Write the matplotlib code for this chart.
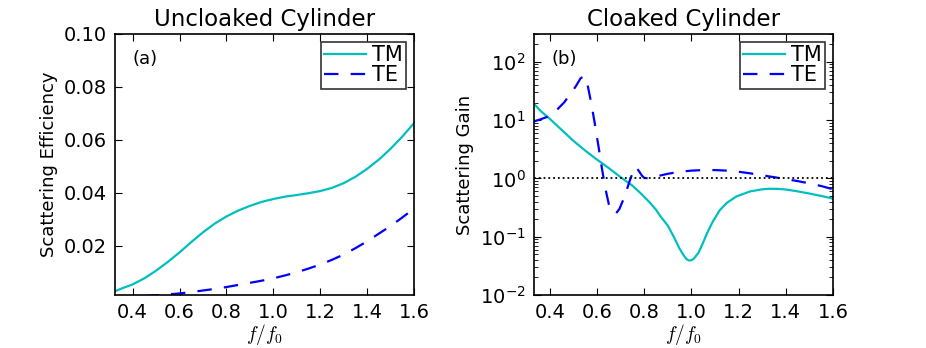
import matplotlib
matplotlib.use("Agg")
import matplotlib.pyplot as plt
from matplotlib.ticker import LogLocator, FixedLocator

plt.rcParams['mathtext.fontset'] = 'cm'
plt.rcParams['font.family'] = ['DejaVu Sans']

# ---- data ----
f_unc = [0.33, 0.36, 0.4, 0.45, 0.5, 0.55, 0.6, 0.65, 0.7, 0.75, 0.8, 0.85, 0.9, 0.95, 1.0,
         1.05, 1.1, 1.15, 1.2, 1.25, 1.3, 1.35, 1.4, 1.45, 1.5, 1.55, 1.6]
tm_unc = [0.0029, 0.0040, 0.0053, 0.0076, 0.0105, 0.0138, 0.0174, 0.0213, 0.0250, 0.0283,
          0.0310, 0.0332, 0.0350, 0.0365, 0.0376, 0.0385, 0.0391, 0.0398, 0.0406, 0.0418,
          0.0436, 0.0460, 0.0490, 0.0525, 0.0566, 0.0612, 0.0663]
f_unc_te = [0.45, 0.5, 0.55, 0.6, 0.65, 0.7, 0.75, 0.8, 0.85, 0.9, 0.95, 1.0,
            1.05, 1.1, 1.15, 1.2, 1.25, 1.3, 1.35, 1.4, 1.45, 1.5, 1.55, 1.6]
te_unc = [0.0009, 0.0012, 0.0015, 0.0019, 0.0024, 0.0030, 0.0036, 0.0043, 0.0051, 0.0059,
          0.0067, 0.0076, 0.0087, 0.0099, 0.0113, 0.0128, 0.0146, 0.0166, 0.0190, 0.0216,
          0.0245, 0.0274, 0.0306, 0.0340]

f_clk = [0.333, 0.36, 0.4, 0.45, 0.5, 0.55, 0.6, 0.65, 0.7, 0.75, 0.78, 0.82, 0.85,
         0.87, 0.9, 0.925, 0.95, 0.97, 0.98, 0.99, 1.0, 1.01, 1.03, 1.05, 1.065, 1.09,
         1.12, 1.15, 1.19, 1.25, 1.3, 1.33, 1.37, 1.4, 1.45, 1.5, 1.55, 1.6]
tm_clk = [19.0, 14.5, 10.5, 6.8, 4.4, 3.0, 2.1, 1.5, 1.05, 0.75, 0.58, 0.40, 0.29,
          0.22, 0.155, 0.100, 0.062, 0.046, 0.041, 0.039, 0.0395, 0.042, 0.053, 0.080,
          0.112, 0.18, 0.285, 0.38, 0.49, 0.6, 0.65, 0.665, 0.66, 0.645, 0.6, 0.55,
          0.50, 0.45]

f_clk_te = [0.333, 0.36, 0.4, 0.43, 0.46, 0.49, 0.51, 0.53, 0.545, 0.56, 0.575, 0.59,
            0.605, 0.62, 0.635, 0.65, 0.665, 0.68, 0.695, 0.71, 0.725, 0.74, 0.755,
            0.765, 0.775, 0.79, 0.80, 0.82, 0.85, 0.9, 0.95, 1.0, 1.05, 1.1, 1.15, 1.2,
            1.25, 1.3, 1.35, 1.4, 1.45, 1.5, 1.55, 1.6]
te_clk = [9.5, 10.3, 11.8, 15.0, 20.0, 29.0, 38.0, 52.0, 57.0, 40.0, 20.0, 9.0,
          3.8, 1.55, 0.68, 0.36, 0.27, 0.25, 0.30, 0.42, 0.62, 0.95, 1.38,
          1.58, 1.38, 1.12, 1.02, 1.0, 1.08, 1.2, 1.3, 1.36, 1.39, 1.39, 1.36, 1.3,
          1.22, 1.13, 1.05, 0.97, 0.9, 0.82, 0.74, 0.65]

c_tm = (0.0, 0.75, 0.75)
c_te = (0.0, 0.0, 1.0)
dash = (0, (6.5, 5.5))

fig = plt.figure(figsize=(9.26, 3.48), dpi=100)
ax1 = fig.add_axes([0.1242, 0.1523, 0.3229, 0.75])
ax2 = fig.add_axes([0.5767, 0.1523, 0.3229, 0.75])

ax1.plot(f_unc, tm_unc, color=c_tm, lw=1.6, label='TM')
ax1.plot(f_unc_te, te_unc, color=c_te, lw=1.6, ls=dash, label='TE')
ax1.set_xlim(0.325, 1.6)
ax1.set_ylim(0.0013, 0.1)
ax1.yaxis.set_major_locator(FixedLocator([0.02, 0.04, 0.06, 0.08, 0.10]))
ax1.set_yticklabels(['0.02', '0.04', '0.06', '0.08', '0.10'])
ax1.set_title('Uncloaked Cylinder', fontsize=16.5, pad=6)
ax1.set_ylabel('Scattering Efficiency', fontsize=13)
ax1.text(0.06, 0.905, '(a)', transform=ax1.transAxes, fontsize=13, va='center', ha='left')

ax2.plot(f_clk, tm_clk, color=c_tm, lw=1.6, label='TM')
ax2.plot(f_clk_te, te_clk, color=c_te, lw=1.6, ls=dash, label='TE')
ax2.axhline(1.0, color='k', ls=':', lw=1.3)
ax2.set_yscale('log')
ax2.set_xlim(0.333, 1.6)
ax2.set_ylim(0.01, 300)
ax2.yaxis.set_major_locator(LogLocator(base=10, numticks=10))
ax2.yaxis.set_minor_locator(LogLocator(base=10, subs=range(2, 10), numticks=20))
ax2.set_title('Cloaked Cylinder', fontsize=16.5, pad=6)
ax2.set_ylabel('Scattering Gain', fontsize=13)
ax2.text(0.06, 0.905, '(b)', transform=ax2.transAxes, fontsize=13, va='center', ha='left')

for ax in (ax1, ax2):
    ax.xaxis.set_major_locator(FixedLocator([0.4, 0.6, 0.8, 1.0, 1.2, 1.4, 1.6]))
    ax.set_xticklabels(['0.4', '0.6', '0.8', '1.0', '1.2', '1.4', '1.6'])
    ax.set_xlabel(r'$f/f_0$', fontsize=14, labelpad=0)
    ax.tick_params(which='both', direction='in', top=True, right=True, labelsize=14, pad=6)
    ax.tick_params(which='major', length=5, width=0.8)
    ax.tick_params(which='minor', length=3, width=0.6)
    for s in ax.spines.values():
        s.set_linewidth(1.2)
    leg = ax.legend(loc='upper right', fontsize=15, frameon=True, fancybox=False,
                    handlelength=2.0, borderpad=0.15, labelspacing=0.0,
                    handletextpad=0.3, borderaxespad=0.4)
    leg.get_frame().set_edgecolor('k')
    leg.get_frame().set_linewidth(1.2)

fig.savefig('out.png', dpi=100)
